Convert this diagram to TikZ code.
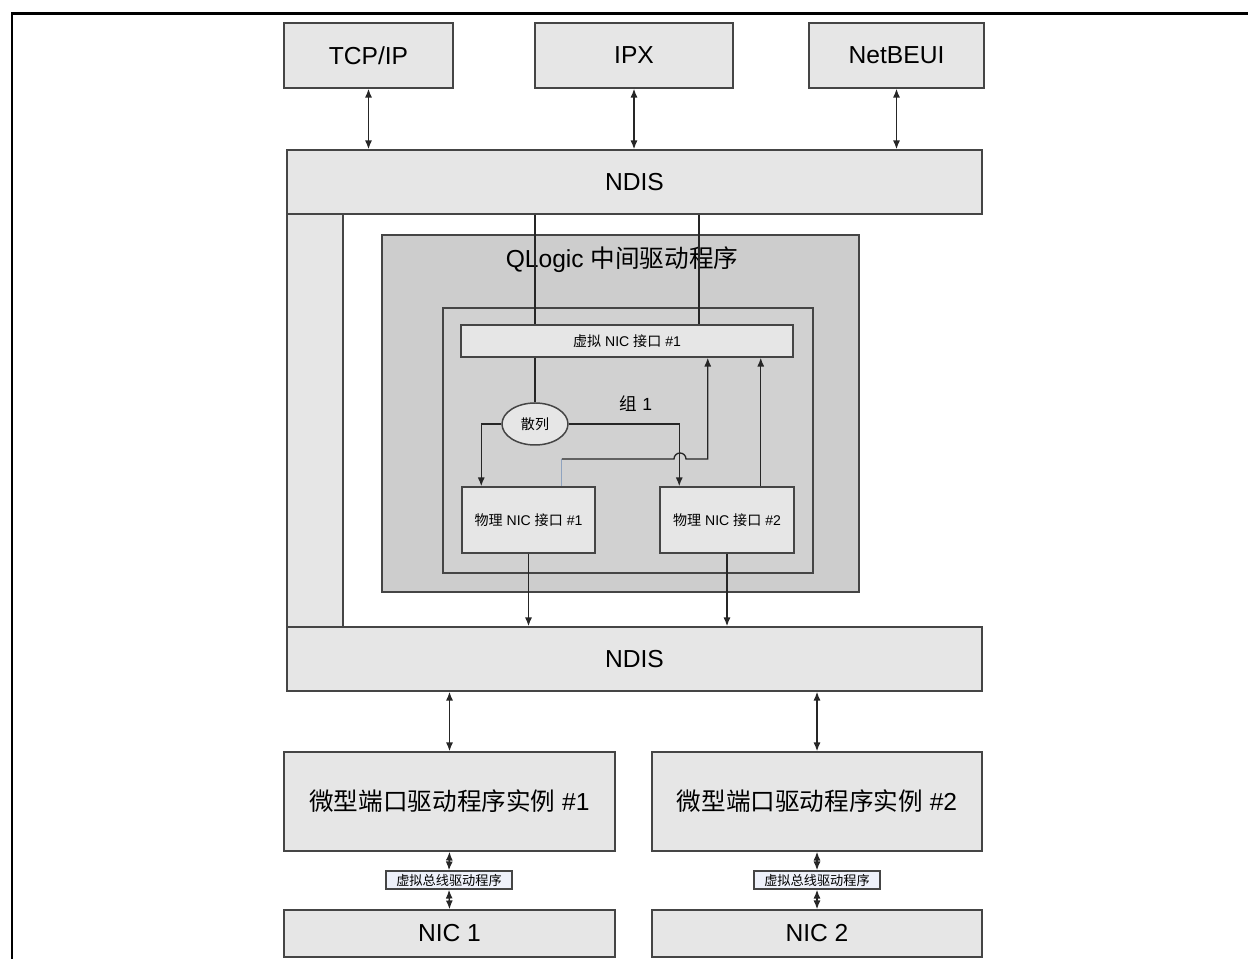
\documentclass[tikz,border=0pt]{standalone}
\usepackage{fontspec}
\setmainfont{Liberation Sans}
\newfontfamily\cjk{Noto Sans CJK SC}
\usetikzlibrary{arrows.meta,shapes.geometric}
\definecolor{grey1}{HTML}{E6E6E6}
\definecolor{grey2}{HTML}{CDCDCD}
\definecolor{grey3}{HTML}{D1D1D1}
\definecolor{edge}{HTML}{454545}
\definecolor{bus}{HTML}{EEF1FA}
\definecolor{thin}{HTML}{8FA3BF}

\begin{document}
\begin{tikzpicture}[align=center,
  box/.style={draw=edge, fill=grey1, line width=0.85pt, rectangle, inner sep=0pt, font=\fontsize{14}{16}\selectfont},
  small/.style={font=\fontsize{8}{10}\selectfont},
  link/.style={line width=0.75pt, draw=black!85},
  arr/.style={link, -{Latex[length=5pt,width=4pt]}},
  darr/.style={link, {Latex[length=5pt,width=4pt]}-{Latex[length=5pt,width=4pt]}}]
\useasboundingbox (0,0) rectangle (24.96,-19.18);
\draw[line width=1.7pt] (0.24,-19.3) -- (0.24,-0.28) -- (25.1,-0.28);

% protocols and upper NDIS
\node[box, minimum width=3.38cm, minimum height=1.30cm] (tcp) at (7.37,-1.11) {TCP/IP};
\node[box, minimum width=3.96cm, minimum height=1.30cm] (ipx) at (12.68,-1.11) {IPX};
\node[box, minimum width=3.50cm, minimum height=1.30cm] (netbeui) at (17.93,-1.11) {NetBEUI};
\node[box, minimum width=13.90cm, minimum height=1.28cm] (ndisup) at (12.69,-3.64) {NDIS};
\node[box, minimum width=1.12cm, minimum height=8.26cm] (strip) at (6.30,-8.41) {};

% intermediate driver
\node[box, fill=grey2, minimum width=9.54cm, minimum height=7.14cm] (qlogic) at (12.41,-8.27) {};
\node[font=\fontsize{14}{16}\selectfont] (title) at (12.44,-5.20) {QLogic {\cjk 中间驱动程序}};
\node[box, fill=grey3, minimum width=7.40cm, minimum height=5.30cm] (team) at (12.56,-8.81) {};
\node[box, small, minimum width=6.64cm, minimum height=0.64cm] (vnic) at (12.54,-6.82) {{\cjk 虚拟} NIC {\cjk 接口} \#1};
\node[ellipse, draw=edge, fill=grey1, line width=0.85pt, inner sep=0pt, minimum width=1.32cm, minimum height=0.84cm, small] (hash) at (10.70,-8.48) {{\cjk 散列}};
\node[font=\fontsize{10}{12}\selectfont] (teamlabel) at (12.72,-8.08) {{\cjk 组} 1};
\node[box, small, minimum width=2.66cm, minimum height=1.32cm] (phys1) at (10.57,-10.40) {{\cjk 物理} NIC {\cjk 接口} \#1};
\node[box, small, minimum width=2.68cm, minimum height=1.32cm] (phys2) at (14.54,-10.40) {{\cjk 物理} NIC {\cjk 接口} \#2};

% lower NDIS and miniports
\node[box, minimum width=13.90cm, minimum height=1.28cm] (ndislow) at (12.69,-13.18) {NDIS};
\node[box, minimum width=6.62cm, minimum height=1.98cm] (mini1) at (8.99,-16.03) {{\cjk 微型端口驱动程序实例} \#1};
\node[box, minimum width=6.60cm, minimum height=1.98cm] (mini2) at (16.34,-16.03) {{\cjk 微型端口驱动程序实例} \#2};
\node[box, fill=bus, minimum width=2.52cm, minimum height=0.36cm, font=\fontsize{7.5}{8}\selectfont] (vbus1) at (8.98,-17.60) {{\cjk 虚拟总线驱动程序}};
\node[box, fill=bus, minimum width=2.52cm, minimum height=0.36cm, font=\fontsize{7.5}{8}\selectfont] (vbus2) at (16.34,-17.60) {{\cjk 虚拟总线驱动程序}};
\node[box, minimum width=6.62cm, minimum height=0.94cm] (nic1) at (8.99,-18.67) {NIC 1};
\node[box, minimum width=6.60cm, minimum height=0.94cm] (nic2) at (16.34,-18.67) {NIC 2};

% connectors
\coordinate (tap) at (13.98,-5);
\coordinate (jump) at (13.60,-9.18);
\coordinate (p1top) at ([xshift=-0.68cm]phys1.north east);
\coordinate (p2top) at ([xshift=-0.68cm]phys2.north east);
\draw[darr] (tcp.south) -- (tcp.south |- ndisup.north);
\draw[darr] (ipx.south) -- (ipx.south |- ndisup.north);
\draw[darr] (netbeui.south) -- (netbeui.south |- ndisup.north);
\draw[link] (ndisup.south -| hash) -- (vnic.north -| hash);
\draw[link] (ndisup.south -| tap) -- (vnic.north -| tap);
\draw[link] (vnic.south -| hash) -- (hash.north);
\draw[arr] (hash.west) -| ([xshift=0.4cm]phys1.north west);
\draw[arr] (hash.east) -| ([xshift=0.4cm]phys2.north west);
\draw[link, draw=thin] (p1top) -- (p1top |- jump);
\draw[arr] (p1top |- jump) -- ([xshift=-0.12cm]jump) arc[start angle=180, end angle=0, radius=0.12cm] -| ([xshift=-1.72cm]vnic.south east);
\draw[arr] (p2top) -- (p2top |- vnic.south);
\draw[arr] (phys1.south) -- (phys1.south |- ndislow.north);
\draw[arr] (phys2.south) -- (phys2.south |- ndislow.north);
\draw[darr] (ndislow.south -| mini1) -- (mini1.north);
\draw[darr] (ndislow.south -| mini2) -- (mini2.north);
\draw[darr] (mini1.south) -- (vbus1.north);
\draw[darr] (mini2.south) -- (vbus2.north);
\draw[darr] (vbus1.south) -- (nic1.north);
\draw[darr] (vbus2.south) -- (nic2.north);
\end{tikzpicture}
\end{document}
